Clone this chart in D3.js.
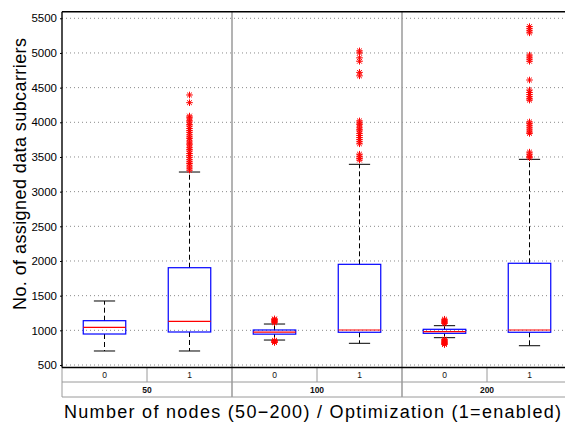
<!DOCTYPE html>
<html><head><meta charset="utf-8">
<script src="https://cdn.jsdelivr.net/npm/d3@7"></script>
<style>html,body{margin:0;padding:0;background:#fff;}svg{display:block;font-family:"Liberation Sans",Arial,Helvetica,sans-serif;}</style>
</head><body>
<svg id="chart" width="565" height="425"></svg>
<script>
// ---- data ----
const groups = ["50", "100", "200"];
const options = ["0", "1"];
const yTicks = [500, 1000, 1500, 2000, 2500, 3000, 3500, 4000, 4500, 5000, 5500];
// order: 50-0, 50-1, 100-0, 100-1, 200-0, 200-1
const lowerWhisker = [702, 702, 860, 813, 894, 778];
const q1 = [947, 976, 945, 972, 957, 972];
const medians = [1044, 1130, 975, 1005, 980, 1005];
const q3 = [1139, 1903, 1005, 1952, 1015, 1967];
const upperWhisker = [1423, 3283, 1091, 3394, 1067, 3466];
const outliers50_0 = [];
const outliers50_1 = [4394, 4283, 4090, 4065, 4030, 4005, 3970, 3945, 3910, 3880, 3855, 3820, 3790, 3765, 3730, 3700, 3675, 3640, 3610, 3585, 3550, 3520, 3495, 3460, 3430, 3405, 3370, 3340, 3310];
const outliers100_0 = [1110, 1125, 1140, 1155, 1165, 855, 845, 835, 825];
const outliers100_1 = [5030, 5000, 4930, 4880, 4720, 4670, 4020, 3990, 3965, 3930, 3900, 3875, 3840, 3810, 3780, 3750, 3720, 3690, 3540, 3510, 3480, 3455];
const outliers200_0 = [1100, 1115, 1130, 1145, 1160, 870, 855, 840, 825, 810, 795];
const outliers200_1 = [5380, 5350, 5320, 5290, 4970, 4940, 4910, 4880, 4610, 4465, 4430, 4400, 4370, 4340, 4320, 4005, 3980, 3950, 3920, 3890, 3860, 3840, 3570, 3540, 3510, 3490];
const outlierSets = [outliers50_0, outliers50_1, outliers100_0, outliers100_1, outliers200_0, outliers200_1];
const yLabel = "No. of assigned data subcarriers";
const xLabel = "Number of nodes (50\u2212200) / Optimization (1=enabled)";

(function () {
// ---- layout ----
const svg = d3.select("#chart");
const pLeft = 62, pRight = 572, pTop = 11.7, pBottom = 367.5;
const row1 = 382, row2 = 397;
const y = d3.scaleLinear().domain([464, 5595]).range([pBottom, pTop]);
const xg = d3.scaleBand().domain(groups).range([pLeft, pRight]);
const xo = d3.scaleBand().domain(options).range([0, xg.bandwidth()]);

const boxes = [];
groups.forEach((g, gi) => options.forEach((o, oi) => {
  const i = gi * 2 + oi;
  boxes.push({g, o, lw: lowerWhisker[i], q1: q1[i], med: medians[i], q3: q3[i], uw: upperWhisker[i], out: outlierSets[i],
    cx: xg(g) + xo(o) + xo.bandwidth() / 2});
}));

// gridlines
svg.append("g").selectAll("line").data(yTicks).join("line")
  .attr("x1", pLeft).attr("x2", pRight)
  .attr("y1", d => y(d)).attr("y2", d => y(d))
  .attr("stroke", "#8a8a8a").attr("stroke-width", 1).attr("stroke-dasharray", "1,3");

// group separators
svg.append("g").selectAll("line").data(groups.slice(1)).join("line")
  .attr("x1", d => xg(d)).attr("x2", d => xg(d)).attr("y1", pTop).attr("y2", row2)
  .attr("stroke", "#9a9a9a").attr("stroke-width", 1.5);

// label box
const lb = svg.append("g").attr("stroke", "#9a9a9a").attr("stroke-width", 1);
lb.append("line").attr("x1", pLeft).attr("x2", pRight).attr("y1", row1).attr("y2", row1);
lb.append("line").attr("x1", pLeft).attr("x2", pRight).attr("y1", row2).attr("y2", row2);
lb.append("line").attr("x1", pLeft).attr("x2", pLeft).attr("y1", pBottom).attr("y2", row2);
lb.selectAll(".mid").data(groups).join("line").attr("class", "mid")
  .attr("x1", d => xg(d) + xo("1")).attr("x2", d => xg(d) + xo("1"))
  .attr("y1", pBottom).attr("y2", row1);

// labels rows
svg.append("g").selectAll("text").data(boxes).join("text")
  .attr("x", d => d.cx).attr("y", (pBottom + row1) / 2 + 3)
  .attr("text-anchor", "middle").attr("font-size", 8.5).attr("fill", "#111").text(d => d.o);
svg.append("g").selectAll("text").data(groups).join("text")
  .attr("x", d => xg(d) + xg.bandwidth() / 2).attr("y", (row1 + row2) / 2 + 3)
  .attr("text-anchor", "middle").attr("font-size", 8.5).attr("font-weight", "bold").attr("fill", "#111").text(d => d);

// boxes
const bw = xo.bandwidth() * 0.5, cw = xo.bandwidth() * 0.25;
const bg = svg.append("g").selectAll("g").data(boxes).join("g");
bg.append("line").attr("x1", d => d.cx).attr("x2", d => d.cx).attr("y1", d => y(d.q3)).attr("y2", d => y(d.uw))
  .attr("stroke", "#000").attr("stroke-dasharray", "5,3");
bg.append("line").attr("x1", d => d.cx).attr("x2", d => d.cx).attr("y1", d => y(d.q1)).attr("y2", d => y(d.lw))
  .attr("stroke", "#000").attr("stroke-dasharray", "5,3");
bg.append("line").attr("x1", d => d.cx - cw / 2).attr("x2", d => d.cx + cw / 2).attr("y1", d => y(d.uw)).attr("y2", d => y(d.uw)).attr("stroke", "#000");
bg.append("line").attr("x1", d => d.cx - cw / 2).attr("x2", d => d.cx + cw / 2).attr("y1", d => y(d.lw)).attr("y2", d => y(d.lw)).attr("stroke", "#000");
bg.append("rect").attr("x", d => d.cx - bw / 2).attr("width", bw)
  .attr("y", d => y(d.q3)).attr("height", d => y(d.q1) - y(d.q3))
  .attr("fill", "none").attr("stroke", "#0000ff").attr("stroke-width", 1.2);
bg.append("line").attr("x1", d => d.cx - bw / 2).attr("x2", d => d.cx + bw / 2).attr("y1", d => y(d.med)).attr("y2", d => y(d.med))
  .attr("stroke", "#ff0000").attr("stroke-width", 1.2);

// outliers
function star(cx, cy) {
  const r = 3.3, d = r * 0.72, p = d3.path();
  p.moveTo(cx - r, cy); p.lineTo(cx + r, cy);
  p.moveTo(cx, cy - r); p.lineTo(cx, cy + r);
  p.moveTo(cx - d, cy - d); p.lineTo(cx + d, cy + d);
  p.moveTo(cx - d, cy + d); p.lineTo(cx + d, cy - d);
  return p.toString();
}
bg.each(function (b) {
  d3.select(this).selectAll("path").data(b.out).join("path")
    .attr("d", v => star(b.cx, y(v))).attr("stroke", "#ff0000").attr("stroke-width", 1).attr("fill", "none");
});

// frame
const fr = svg.append("g").attr("stroke", "#000").attr("stroke-width", 1.4);
fr.append("line").attr("x1", pLeft).attr("x2", pLeft).attr("y1", pTop).attr("y2", pBottom);
fr.append("line").attr("x1", pLeft).attr("x2", pRight).attr("y1", pTop).attr("y2", pTop);
fr.append("line").attr("x1", pLeft).attr("x2", pRight).attr("y1", pBottom).attr("y2", pBottom);

// y axis ticks
const ya = svg.append("g").attr("transform", `translate(${pLeft},0)`)
  .call(d3.axisLeft(y).tickValues(yTicks).tickSize(2).tickSizeOuter(0).tickPadding(3).tickFormat(d3.format("d")));
ya.select(".domain").remove();
ya.selectAll("text").attr("font-size", 11.5).attr("fill", "#000").attr("font-family", "Liberation Sans, Arial, sans-serif");
ya.selectAll("line").attr("stroke", "#000");

// axis titles
svg.append("text").attr("transform", "translate(26,174) rotate(-90)")
  .attr("text-anchor", "middle").attr("font-size", 18).attr("fill", "#000")
  .attr("textLength", 272).attr("lengthAdjust", "spacing").text(yLabel);
svg.append("text").attr("x", 312.5).attr("y", 418)
  .attr("text-anchor", "middle").attr("font-size", 18).attr("fill", "#000")
  .attr("textLength", 497).attr("lengthAdjust", "spacing").text(xLabel);
})();
</script>
</body></html>
